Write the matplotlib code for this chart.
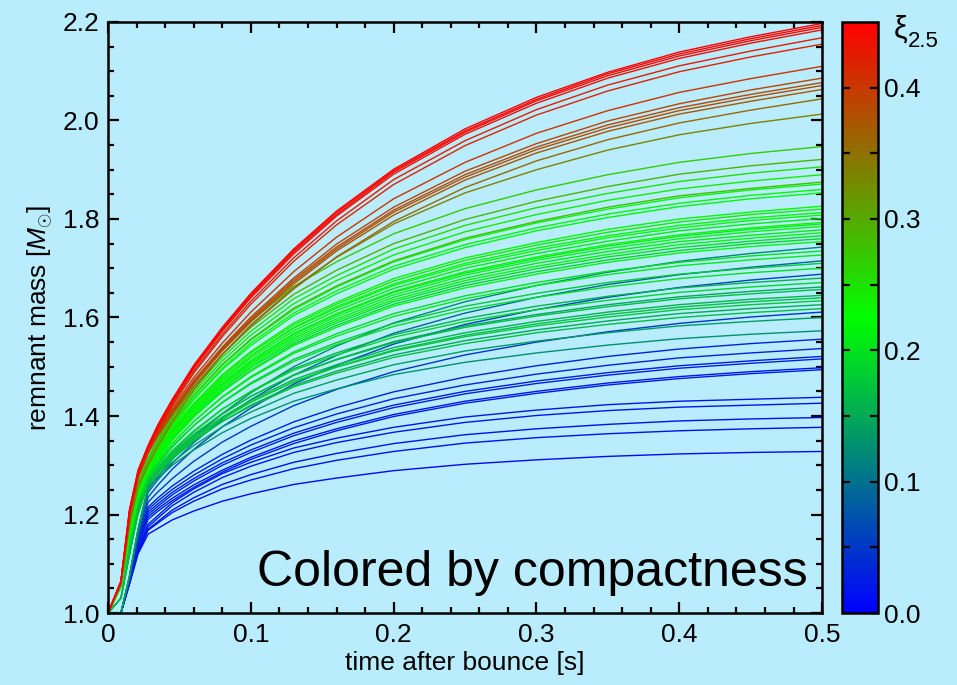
import numpy as np
import matplotlib
matplotlib.use("Agg")
import matplotlib.pyplot as plt
from matplotlib.colors import LinearSegmentedColormap, Normalize
from matplotlib.cm import ScalarMappable
from matplotlib.ticker import MultipleLocator, FixedLocator

plt.rcParams['font.family'] = ['Liberation Sans', 'DejaVu Sans']
plt.rcParams['mathtext.fontset'] = 'custom'
plt.rcParams['mathtext.rm'] = 'Liberation Sans'
plt.rcParams['mathtext.it'] = 'Liberation Sans:italic'

# time samples after bounce [s]
t_s = [0, 0.009, 0.015, 0.021, 0.028, 0.035, 0.045, 0.06, 0.08, 0.1,
       0.13, 0.16, 0.2, 0.25, 0.3, 0.35, 0.4, 0.45, 0.5]

# compactness xi_2.5 of each model
xi = [0.450, 0.445, 0.440, 0.435, 0.425, 0.420,
      0.405, 0.390, 0.385, 0.380, 0.375, 0.360, 0.335,
      0.27, 0.29, 0.25, 0.24, 0.28, 0.23, 0.22, 0.23, 0.24, 0.22, 0.21,
      0.23, 0.22, 0.21, 0.20, 0.22, 0.12, 0.21, 0.09, 0.20, 0.06, 0.19,
      0.17, 0.16, 0.18, 0.15, 0.17, 0.05, 0.13,
      0.03, 0.03, 0.025, 0.03, 0.02, 0.025,
      0.02, 0.02, 0.015, 0.015, 0.01,
      0.22, 0.23, 0.21, 0.22, 0.19, 0.20, 0.18, 0.16, 0.15, 0.17, 0.14]

# remnant mass [Msun] of each model at t_s
mass = [
    [1.0, 1.065, 1.210, 1.290, 1.340, 1.383, 1.434, 1.503, 1.580, 1.649, 1.739, 1.816, 1.901, 1.983, 2.047, 2.098, 2.139, 2.170, 2.197],
    [1.0, 1.064, 1.208, 1.288, 1.338, 1.381, 1.432, 1.500, 1.577, 1.646, 1.736, 1.813, 1.898, 1.979, 2.043, 2.095, 2.135, 2.166, 2.193],
    [1.0, 1.064, 1.206, 1.286, 1.336, 1.379, 1.430, 1.498, 1.575, 1.643, 1.733, 1.809, 1.895, 1.976, 2.040, 2.091, 2.131, 2.162, 2.189],
    [1.0, 1.063, 1.204, 1.284, 1.334, 1.377, 1.428, 1.496, 1.572, 1.640, 1.729, 1.806, 1.891, 1.972, 2.035, 2.086, 2.126, 2.157, 2.184],
    [1.0, 1.063, 1.202, 1.282, 1.332, 1.374, 1.424, 1.491, 1.566, 1.633, 1.721, 1.796, 1.880, 1.959, 2.022, 2.072, 2.111, 2.141, 2.168],
    [1.0, 1.062, 1.200, 1.280, 1.330, 1.371, 1.421, 1.487, 1.561, 1.627, 1.714, 1.788, 1.870, 1.949, 2.011, 2.060, 2.099, 2.129, 2.155],
    [1.0, 1.062, 1.200, 1.280, 1.330, 1.369, 1.416, 1.478, 1.548, 1.611, 1.693, 1.763, 1.841, 1.915, 1.974, 2.020, 2.057, 2.085, 2.110],
    [1.0, 1.062, 1.198, 1.278, 1.328, 1.366, 1.411, 1.472, 1.540, 1.601, 1.680, 1.749, 1.824, 1.897, 1.953, 1.999, 2.034, 2.062, 2.086],
    [1.0, 1.061, 1.197, 1.277, 1.327, 1.365, 1.410, 1.470, 1.537, 1.597, 1.676, 1.743, 1.818, 1.890, 1.946, 1.991, 2.026, 2.053, 2.077],
    [1.0, 1.061, 1.196, 1.276, 1.326, 1.363, 1.408, 1.468, 1.535, 1.594, 1.672, 1.739, 1.814, 1.885, 1.941, 1.985, 2.020, 2.047, 2.071],
    [1.0, 1.061, 1.195, 1.275, 1.325, 1.362, 1.406, 1.465, 1.532, 1.591, 1.668, 1.735, 1.808, 1.879, 1.934, 1.978, 2.013, 2.039, 2.063],
    [1.0, 1.060, 1.193, 1.273, 1.323, 1.359, 1.402, 1.460, 1.525, 1.583, 1.658, 1.723, 1.795, 1.864, 1.918, 1.961, 1.995, 2.021, 2.044],
    [1.0, 1.058, 1.180, 1.255, 1.300, 1.339, 1.389, 1.453, 1.525, 1.585, 1.661, 1.722, 1.790, 1.853, 1.900, 1.940, 1.971, 1.994, 2.013],
    [1.0, 1.060, 1.185, 1.265, 1.315, 1.353, 1.403, 1.467, 1.536, 1.593, 1.663, 1.713, 1.770, 1.821, 1.859, 1.890, 1.915, 1.933, 1.947],
    [1.0, 1.060, 1.182, 1.262, 1.312, 1.349, 1.397, 1.458, 1.525, 1.580, 1.647, 1.696, 1.750, 1.799, 1.836, 1.866, 1.891, 1.908, 1.921],
    [1.0, 1.060, 1.180, 1.260, 1.310, 1.346, 1.393, 1.453, 1.519, 1.572, 1.638, 1.685, 1.739, 1.787, 1.823, 1.852, 1.876, 1.893, 1.906],
    [1.0, 1.059, 1.178, 1.258, 1.308, 1.343, 1.389, 1.448, 1.512, 1.564, 1.628, 1.675, 1.727, 1.774, 1.809, 1.838, 1.861, 1.877, 1.890],
    [1.0, 1.059, 1.175, 1.255, 1.305, 1.339, 1.385, 1.442, 1.505, 1.556, 1.619, 1.664, 1.715, 1.761, 1.795, 1.824, 1.847, 1.862, 1.875],
    [1.0, 1.059, 1.175, 1.255, 1.305, 1.339, 1.384, 1.441, 1.503, 1.554, 1.616, 1.662, 1.713, 1.758, 1.792, 1.820, 1.843, 1.859, 1.871],
    [1.0, 1.058, 1.170, 1.250, 1.300, 1.333, 1.377, 1.433, 1.494, 1.543, 1.604, 1.648, 1.698, 1.742, 1.776, 1.803, 1.825, 1.841, 1.853],
    [1.0, 1.058, 1.170, 1.250, 1.300, 1.332, 1.374, 1.426, 1.484, 1.531, 1.589, 1.631, 1.679, 1.721, 1.752, 1.779, 1.800, 1.814, 1.826],
    [1.0, 1.058, 1.168, 1.248, 1.298, 1.329, 1.371, 1.423, 1.481, 1.528, 1.585, 1.627, 1.674, 1.716, 1.747, 1.773, 1.794, 1.809, 1.820],
    [1.0, 1.057, 1.166, 1.246, 1.296, 1.327, 1.368, 1.420, 1.477, 1.523, 1.580, 1.622, 1.668, 1.710, 1.741, 1.766, 1.787, 1.802, 1.813],
    [1.0, 1.057, 1.165, 1.245, 1.295, 1.325, 1.366, 1.416, 1.472, 1.518, 1.573, 1.614, 1.659, 1.700, 1.730, 1.755, 1.776, 1.790, 1.801],
    [1.0, 1.057, 1.163, 1.243, 1.293, 1.323, 1.363, 1.413, 1.468, 1.513, 1.568, 1.608, 1.653, 1.693, 1.723, 1.748, 1.768, 1.782, 1.793],
    [1.0, 1.056, 1.160, 1.240, 1.290, 1.320, 1.359, 1.409, 1.463, 1.508, 1.562, 1.602, 1.646, 1.686, 1.716, 1.740, 1.760, 1.774, 1.785],
    [1.0, 1.056, 1.160, 1.240, 1.290, 1.319, 1.358, 1.407, 1.461, 1.505, 1.558, 1.597, 1.641, 1.680, 1.710, 1.734, 1.754, 1.767, 1.778],
    [1.0, 1.056, 1.157, 1.237, 1.287, 1.316, 1.354, 1.402, 1.455, 1.498, 1.550, 1.589, 1.632, 1.670, 1.699, 1.723, 1.742, 1.755, 1.766],
    [1.0, 1.056, 1.155, 1.235, 1.285, 1.313, 1.351, 1.398, 1.449, 1.491, 1.543, 1.580, 1.623, 1.660, 1.688, 1.712, 1.731, 1.744, 1.754],
    [1.0, 1.000, 1.075, 1.170, 1.250, 1.277, 1.312, 1.356, 1.405, 1.447, 1.500, 1.542, 1.589, 1.632, 1.665, 1.692, 1.714, 1.730, 1.743],
    [1.0, 1.055, 1.152, 1.232, 1.282, 1.309, 1.344, 1.389, 1.438, 1.478, 1.527, 1.562, 1.602, 1.638, 1.665, 1.687, 1.705, 1.717, 1.727],
    [1.0, 1.000, 1.072, 1.165, 1.245, 1.271, 1.304, 1.346, 1.393, 1.433, 1.483, 1.523, 1.568, 1.609, 1.641, 1.667, 1.687, 1.702, 1.715],
    [1.0, 1.055, 1.150, 1.230, 1.280, 1.305, 1.339, 1.381, 1.427, 1.465, 1.511, 1.545, 1.582, 1.616, 1.641, 1.662, 1.679, 1.691, 1.700],
    [1.0, 1.000, 1.070, 1.155, 1.235, 1.260, 1.292, 1.332, 1.378, 1.416, 1.465, 1.503, 1.546, 1.586, 1.616, 1.641, 1.661, 1.676, 1.688],
    [1.0, 1.054, 1.145, 1.225, 1.275, 1.299, 1.330, 1.370, 1.414, 1.449, 1.493, 1.524, 1.560, 1.592, 1.616, 1.635, 1.651, 1.662, 1.671],
    [1.0, 1.054, 1.140, 1.220, 1.270, 1.293, 1.324, 1.363, 1.405, 1.440, 1.483, 1.514, 1.549, 1.580, 1.603, 1.622, 1.638, 1.648, 1.657],
    [1.0, 1.030, 1.120, 1.210, 1.265, 1.288, 1.318, 1.356, 1.398, 1.432, 1.474, 1.504, 1.539, 1.569, 1.592, 1.611, 1.626, 1.637, 1.645],
    [1.0, 1.054, 1.138, 1.218, 1.268, 1.290, 1.319, 1.356, 1.396, 1.429, 1.469, 1.499, 1.532, 1.561, 1.583, 1.601, 1.616, 1.626, 1.634],
    [1.0, 1.030, 1.120, 1.205, 1.262, 1.284, 1.313, 1.349, 1.389, 1.422, 1.462, 1.491, 1.524, 1.553, 1.575, 1.593, 1.608, 1.618, 1.626],
    [1.0, 1.054, 1.135, 1.215, 1.265, 1.286, 1.314, 1.350, 1.389, 1.420, 1.459, 1.487, 1.519, 1.547, 1.569, 1.586, 1.600, 1.610, 1.618],
    [1.0, 1.000, 1.068, 1.150, 1.225, 1.246, 1.273, 1.308, 1.347, 1.379, 1.421, 1.454, 1.490, 1.524, 1.550, 1.571, 1.588, 1.601, 1.611],
    [1.0, 1.000, 1.075, 1.170, 1.255, 1.274, 1.300, 1.331, 1.366, 1.395, 1.430, 1.455, 1.484, 1.509, 1.528, 1.544, 1.557, 1.566, 1.573],
    [1.0, 1.000, 1.066, 1.145, 1.215, 1.234, 1.258, 1.288, 1.322, 1.351, 1.388, 1.417, 1.449, 1.479, 1.502, 1.521, 1.536, 1.547, 1.556],
    [1.0, 1.000, 1.065, 1.142, 1.210, 1.228, 1.251, 1.280, 1.313, 1.341, 1.376, 1.404, 1.435, 1.463, 1.485, 1.503, 1.518, 1.528, 1.537],
    [1.0, 1.000, 1.065, 1.140, 1.205, 1.222, 1.245, 1.273, 1.305, 1.331, 1.365, 1.392, 1.422, 1.450, 1.471, 1.488, 1.502, 1.512, 1.521],
    [1.0, 1.000, 1.064, 1.138, 1.200, 1.217, 1.240, 1.268, 1.300, 1.326, 1.360, 1.387, 1.417, 1.445, 1.466, 1.483, 1.497, 1.507, 1.516],
    [1.0, 1.000, 1.064, 1.136, 1.195, 1.212, 1.233, 1.260, 1.290, 1.316, 1.349, 1.374, 1.403, 1.430, 1.450, 1.467, 1.480, 1.490, 1.498],
    [1.0, 1.000, 1.063, 1.134, 1.190, 1.207, 1.228, 1.255, 1.286, 1.312, 1.344, 1.370, 1.399, 1.426, 1.446, 1.463, 1.476, 1.486, 1.494],
    [1.0, 1.000, 1.062, 1.130, 1.180, 1.198, 1.224, 1.252, 1.283, 1.306, 1.335, 1.355, 1.377, 1.398, 1.412, 1.423, 1.430, 1.434, 1.438],
    [1.0, 1.000, 1.062, 1.128, 1.175, 1.193, 1.218, 1.245, 1.275, 1.298, 1.326, 1.346, 1.367, 1.387, 1.401, 1.411, 1.418, 1.422, 1.426],
    [1.0, 1.000, 1.061, 1.125, 1.170, 1.186, 1.209, 1.234, 1.261, 1.281, 1.306, 1.324, 1.344, 1.362, 1.374, 1.383, 1.390, 1.394, 1.397],
    [1.0, 1.000, 1.060, 1.123, 1.168, 1.183, 1.204, 1.227, 1.252, 1.270, 1.293, 1.310, 1.328, 1.345, 1.356, 1.364, 1.370, 1.374, 1.377],
    [1.0, 1.000, 1.058, 1.120, 1.160, 1.172, 1.189, 1.207, 1.227, 1.242, 1.261, 1.274, 1.289, 1.302, 1.311, 1.318, 1.323, 1.326, 1.328],
    [1.0, 1.058, 1.172, 1.252, 1.302, 1.335, 1.380, 1.436, 1.497, 1.548, 1.609, 1.654, 1.704, 1.748, 1.782, 1.810, 1.832, 1.848, 1.860],
    [1.0, 1.057, 1.167, 1.247, 1.297, 1.328, 1.369, 1.420, 1.476, 1.522, 1.578, 1.619, 1.665, 1.706, 1.736, 1.762, 1.782, 1.797, 1.808],
    [1.0, 1.056, 1.162, 1.242, 1.292, 1.322, 1.362, 1.412, 1.466, 1.511, 1.566, 1.606, 1.651, 1.690, 1.720, 1.745, 1.765, 1.779, 1.790],
    [1.0, 1.056, 1.158, 1.238, 1.288, 1.317, 1.356, 1.404, 1.457, 1.501, 1.554, 1.593, 1.636, 1.675, 1.704, 1.728, 1.748, 1.761, 1.772],
    [1.0, 1.055, 1.154, 1.234, 1.284, 1.313, 1.351, 1.398, 1.451, 1.493, 1.546, 1.584, 1.627, 1.665, 1.693, 1.717, 1.736, 1.750, 1.760],
    [1.0, 1.055, 1.150, 1.230, 1.280, 1.307, 1.344, 1.389, 1.439, 1.480, 1.530, 1.567, 1.608, 1.644, 1.671, 1.694, 1.712, 1.725, 1.735],
    [1.0, 1.054, 1.146, 1.226, 1.276, 1.302, 1.337, 1.380, 1.428, 1.467, 1.515, 1.549, 1.588, 1.623, 1.649, 1.671, 1.688, 1.700, 1.710],
    [1.0, 1.030, 1.120, 1.210, 1.270, 1.295, 1.327, 1.368, 1.414, 1.450, 1.496, 1.528, 1.565, 1.598, 1.623, 1.643, 1.660, 1.671, 1.680],
    [1.0, 1.030, 1.120, 1.205, 1.265, 1.289, 1.321, 1.360, 1.404, 1.440, 1.483, 1.515, 1.551, 1.583, 1.606, 1.626, 1.642, 1.653, 1.662],
    [1.0, 1.030, 1.118, 1.200, 1.262, 1.285, 1.315, 1.353, 1.394, 1.428, 1.470, 1.500, 1.534, 1.564, 1.587, 1.606, 1.621, 1.632, 1.640],
    [1.0, 1.000, 1.075, 1.170, 1.258, 1.279, 1.306, 1.340, 1.378, 1.408, 1.446, 1.473, 1.504, 1.532, 1.552, 1.569, 1.583, 1.592, 1.600],
]

bg = '#b9ecfc'
cmap = LinearSegmentedColormap.from_list('bgr', [(0, 0, 1), (0, 1, 0), (1, 0, 0)])
norm = Normalize(vmin=0.0, vmax=0.45)

fig = plt.figure(figsize=(9.57, 6.85), dpi=100, facecolor=bg)
ax = fig.add_axes([0.1129, 0.1051, 0.7461, 0.8628])
ax.set_facecolor(bg)

order = np.argsort(xi)
for i in order:
    ax.plot(t_s, mass[i], color=cmap(norm(xi[i])), lw=1.0)

ax.set_xlim(0, 0.5)
ax.set_ylim(1.0, 2.2)
ax.set_xticks([0, 0.1, 0.2, 0.3, 0.4, 0.5])
ax.set_xticklabels(['0', '0.1', '0.2', '0.3', '0.4', '0.5'])
ax.set_yticks([1.0, 1.2, 1.4, 1.6, 1.8, 2.0, 2.2])
ax.set_yticklabels(['1.0', '1.2', '1.4', '1.6', '1.8', '2.0', '2.2'])
ax.xaxis.set_minor_locator(MultipleLocator(0.02))
ax.yaxis.set_minor_locator(MultipleLocator(0.05))
ax.tick_params(which='both', direction='in', top=True, right=True, width=1.6,
               labelsize=19)
ax.tick_params(axis='x', pad=7)
ax.tick_params(axis='y', pad=6)
ax.tick_params(which='major', length=8)
ax.tick_params(which='minor', length=4.5)
for s in ax.spines.values():
    s.set_linewidth(1.8)

ax.set_xlabel('time after bounce [s]', fontsize=19, labelpad=3)
ax.set_ylabel(r'remnant mass [$M_{\odot}$]', fontsize=19, labelpad=6)

ax.text(0.980, 0.045, 'Colored by compactness', transform=ax.transAxes,
        ha='right', va='baseline', fontsize=36)

cax = fig.add_axes([0.880, 0.1051, 0.0376, 0.8628])
sm = ScalarMappable(norm=norm, cmap=cmap)
cb = fig.colorbar(sm, cax=cax)
cb.set_ticks([0.0, 0.1, 0.2, 0.3, 0.4])
cb.set_ticklabels(['0.0', '0.1', '0.2', '0.3', '0.4'])
cax.yaxis.set_minor_locator(FixedLocator([0.05, 0.15, 0.25, 0.35]))
cax.tick_params(which='both', direction='in', left=True, right=True,
                length=6, width=1.6, labelsize=19, pad=4)
cb.outline.set_linewidth(1.8)
fig.text(0.941, 0.945, 'ξ', fontsize=22, ha='center', va='baseline')
fig.text(0.949, 0.932, '2.5', fontsize=16, ha='left', va='baseline')

fig.savefig('out.png', dpi=100, facecolor=bg)
